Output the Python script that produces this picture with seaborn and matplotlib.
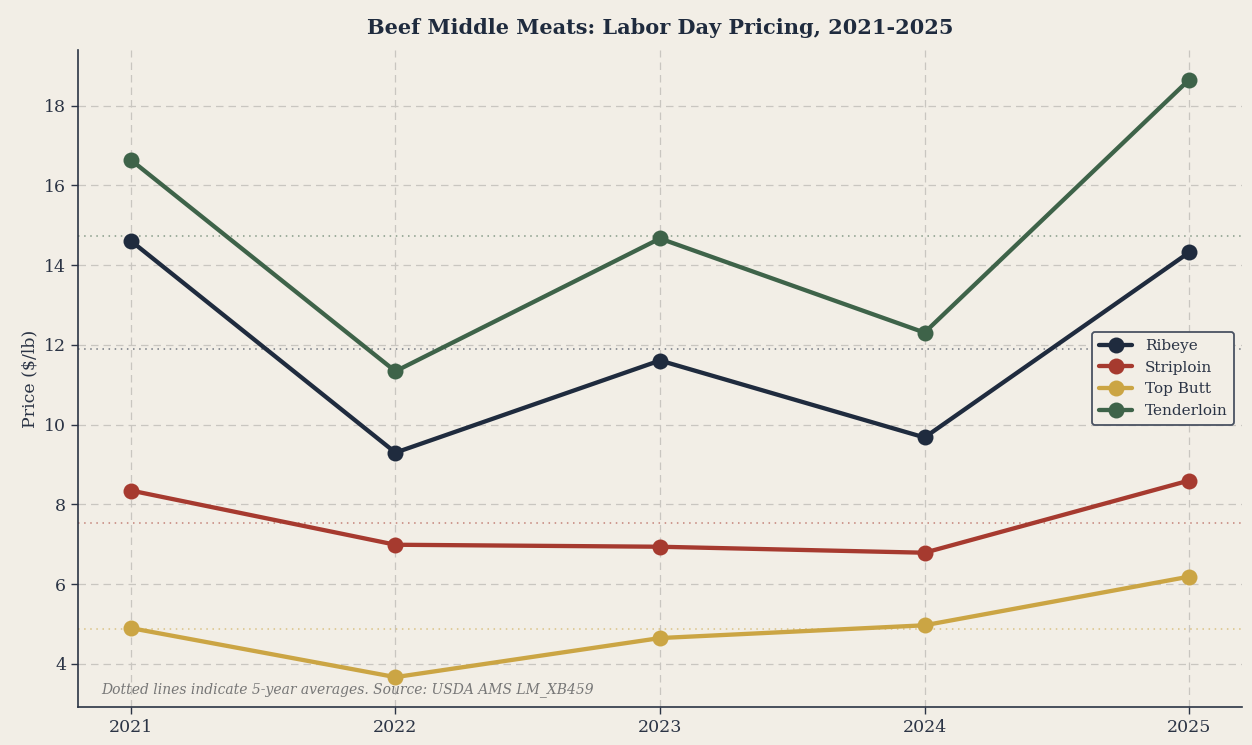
import matplotlib
matplotlib.use("Agg")
import matplotlib.pyplot as plt
import seaborn as sns
import pandas as pd
import numpy as np

years = [2021, 2022, 2023, 2024, 2025]
cuts = ["Ribeye", "Striploin", "Top Butt", "Tenderloin"]
ribeye = [14.61, 9.30, 11.61, 9.68, 14.32]
striploin = [8.35, 6.99, 6.94, 6.79, 8.60]
top_butt = [4.90, 3.67, 4.65, 4.97, 6.19]
tenderloin = [16.64, 11.34, 14.67, 12.31, 18.65]
colors = ["#1f2b3e", "#a63a2f", "#cba544", "#3e6349"]

series = [ribeye, striploin, top_butt, tenderloin]
df = pd.DataFrame({
    "year": years * len(cuts),
    "price": sum(series, []),
    "cut": sum([[c] * len(years) for c in cuts], []),
})

bg = "#f2eee6"
ink = "#2b3445"
sns.set_theme(style="white")
plt.rcParams["font.family"] = ["DejaVu Serif"]

fig = plt.figure(figsize=(12.52, 7.45), dpi=100, facecolor=bg)
ax = fig.add_axes([0.0623, 0.051, 0.9297, 0.882])
ax.set_facecolor(bg)

palette = dict(zip(cuts, colors))
sns.lineplot(data=df, x="year", y="price", hue="cut", palette=palette,
             marker="o", markersize=11.5, markeredgewidth=0, linewidth=3.1,
             ax=ax, legend=True, zorder=3)

for c, s in zip(cuts, series):
    ax.axhline(np.mean(s), color=palette[c], linestyle=(0, (1, 3)),
               linewidth=1.1, alpha=0.6, zorder=1)

ax.grid(True, linestyle=(0, (6, 4)), color="#c9c6c0", linewidth=0.9, zorder=0)
ax.set_axisbelow(True)
ax.set_xticks(years)
ax.set_xticklabels([str(y) for y in years])
ax.tick_params(axis="both", colors=ink, labelsize=12.5, length=5, width=1,
               left=True, bottom=True)
for t in ax.get_xticklabels() + ax.get_yticklabels():
    t.set_color(ink)
for side in ["top", "right"]:
    ax.spines[side].set_visible(False)
for side in ["left", "bottom"]:
    ax.spines[side].set_color(ink)
    ax.spines[side].set_linewidth(1.2)

ax.set_xlabel("")
ax.set_ylabel("Price ($/lb)", fontsize=12.5, color=ink)
ax.margins(x=0.05, y=0.05)

fig.text(0.527, 0.963, "Beef Middle Meats: Labor Day Pricing, 2021-2025",
         ha="center", va="center", fontsize=15, fontweight="bold", color="#1f2b3e")

ax.text(0.02, 0.015, "Dotted lines indicate 5-year averages. Source: USDA AMS LM_XB459",
        transform=ax.transAxes, fontsize=10, style="italic", color="#777777",
        ha="left", va="bottom")

leg = ax.legend(title=None, loc="center right", fontsize=11, frameon=True,
                facecolor=bg, edgecolor="#4a5262", framealpha=1,
                borderpad=0.45, handlelength=2.2)
leg.get_frame().set_linewidth(1.3)
for t in leg.get_texts():
    t.set_color(ink)

fig.savefig("out.png", dpi=100, facecolor=bg)
